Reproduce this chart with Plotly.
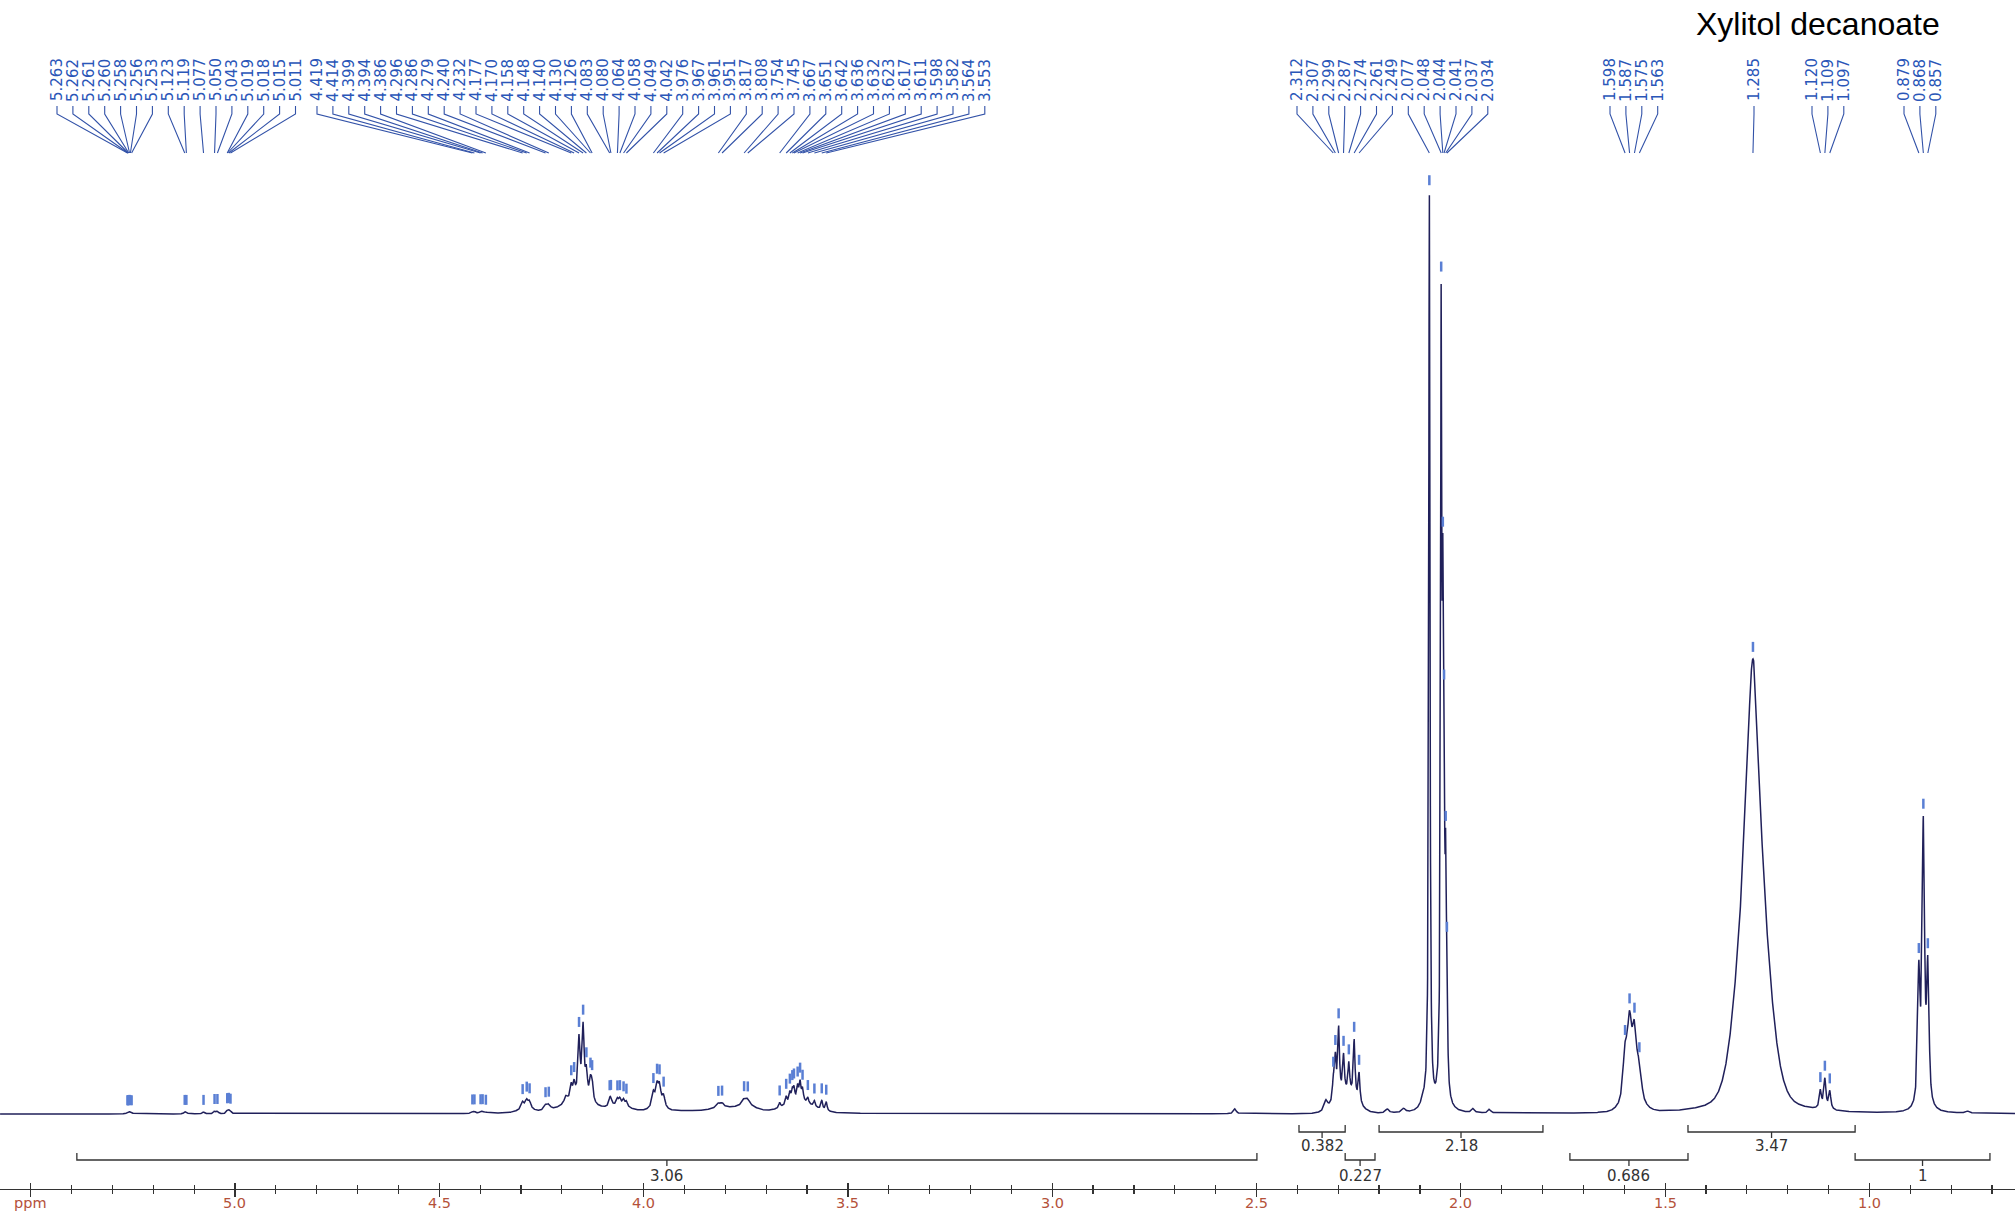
import numpy as np
import plotly.graph_objects as go

W, H = 2015, 1211
X_LEFT, X_RIGHT = 5.5751, 0.6437      # ppm at the left / right edge of the plot area
Y_BOTTOM, Y_TOP = -75, 1114            # intensity range (baseline = 0)

# ---------------- spectrum peak list ----------------
pk_ppm = [5.263, 5.258, 5.253, 5.123, 5.119, 5.077, 5.050, 5.043, 5.019, 5.015, 5.011,
          4.419, 4.414, 4.399, 4.394, 4.386,
          4.290, 4.296, 4.286, 4.279, 4.240, 4.232,
          4.160, 4.190, 4.177, 4.170, 4.158, 4.148, 4.140, 4.130, 4.126,
          4.060, 4.083, 4.080, 4.064, 4.058, 4.049, 4.042,
          3.965, 3.976, 3.967, 3.961, 3.951,
          3.900, 3.810, 3.817, 3.808, 3.750, 3.754, 3.745,
          3.620, 3.667, 3.651, 3.642, 3.636, 3.632, 3.623, 3.617, 3.611, 3.598, 3.582, 3.564, 3.553,
          2.553,
          2.280, 2.330, 2.312, 2.307, 2.299, 2.287, 2.274, 2.261, 2.249,
          2.180, 2.140, 2.092,
          2.077, 2.048, 2.044, 2.041, 2.037, 2.034,
          1.970, 1.930,
          1.580, 1.598, 1.587, 1.575, 1.563,
          1.285, 1.285,
          1.120, 1.109, 1.097,
          0.879, 0.868, 0.857,
          0.760]
pk_h = [1.2, 1.5, 1.2, 1.5, 1.5, 2.0, 2.5, 2.5, 2.5, 2.5, 2.0,
        1.5, 1.5, 1.5, 1.5, 1.2,
        3.0, 7.0, 8.0, 7.0, 5.0, 5.0,
        12.0, 7.0, 14.0, 14.0, 58.0, 70.0, 25.0, 18.0, 18.0,
        5.0, 6.0, 6.0, 6.0, 6.0, 6.0, 5.0,
        8.0, 12.0, 16.0, 16.0, 10.0,
        3.0, 3.0, 4.0, 4.0, 5.0, 6.0, 6.0,
        10.0, 5.0, 8.0, 10.0, 10.0, 12.0, 14.0, 18.0, 12.0, 6.0, 6.0, 9.0, 9.0,
        5.0,
        18.0, 10.0, 20.0, 40.0, 68.0, 38.0, 30.0, 58.0, 30.0,
        4.0, 4.0, 8.0,
        915.0, 750.0, 380.0, 250.0, 180.0, 90.0,
        4.0, 4.0,
        15.0, 45.0, 70.0, 62.0, 30.0,
        305.0, 150.0,
        18.0, 30.0, 18.0,
        130.0, 278.0, 135.0,
        2.0]
pk_w = [0.006, 0.006, 0.006, 0.006, 0.006, 0.006, 0.006, 0.006, 0.006, 0.006, 0.006,
        0.006, 0.006, 0.006, 0.006, 0.006,
        0.040, 0.008, 0.008, 0.008, 0.010, 0.010,
        0.080, 0.010, 0.006, 0.006, 0.006, 0.006, 0.006, 0.006, 0.006,
        0.050, 0.006, 0.006, 0.006, 0.006, 0.006, 0.006,
        0.030, 0.007, 0.007, 0.007, 0.007,
        0.600, 0.060, 0.010, 0.010, 0.060, 0.012, 0.012,
        0.080, 0.005, 0.005, 0.005, 0.005, 0.005, 0.005, 0.005, 0.005, 0.005, 0.005, 0.005, 0.005,
        0.008,
        0.060, 0.010, 0.005, 0.005, 0.005, 0.005, 0.005, 0.005, 0.005,
        0.010, 0.010, 0.015,
        0.0035, 0.0035, 0.0035, 0.0035, 0.0035, 0.0035,
        0.008, 0.008,
        0.050, 0.012, 0.012, 0.012, 0.012,
        0.076, 0.028,
        0.006, 0.006, 0.006,
        0.007, 0.007, 0.007,
        0.010]
pk_eta = [1, 1, 1, 1, 1, 1, 1, 1, 1, 1, 1,
          1, 1, 1, 1, 1,
          0, 1, 1, 1, 1, 1,
          0.5, 1, 1, 1, 1, 1, 1, 1, 1,
          0, 1, 1, 1, 1, 1, 1,
          0, 1, 1, 1, 1,
          0, 0, 1, 1, 0, 1, 1,
          0, 1, 1, 1, 1, 1, 1, 1, 1, 1, 1, 1, 1,
          1,
          0, 1, 1, 1, 1, 1, 1, 1, 1,
          1, 1, 1,
          1, 1, 1, 1, 1, 1,
          1, 1,
          0, 0.6, 0.6, 0.6, 0.6,
          0.25, 0.5,
          1, 1, 1,
          0.8, 0.8, 0.8,
          1]

# ---------------- peak-pick labels (groups, evenly spaced above the spectrum) ----------------
label_groups = [
    ["5.263", "5.262", "5.261", "5.260", "5.258", "5.256", "5.253", "5.123", "5.119", "5.077",
     "5.050", "5.043", "5.019", "5.018", "5.015", "5.011"],
    ["4.419", "4.414", "4.399", "4.394", "4.386", "4.296", "4.286", "4.279", "4.240", "4.232",
     "4.177", "4.170", "4.158", "4.148", "4.140", "4.130", "4.126", "4.083", "4.080", "4.064",
     "4.058", "4.049", "4.042", "3.976", "3.967", "3.961", "3.951", "3.817", "3.808", "3.754",
     "3.745", "3.667", "3.651", "3.642", "3.636", "3.632", "3.623", "3.617", "3.611", "3.598",
     "3.582", "3.564", "3.553"],
    ["2.312", "2.307", "2.299", "2.287", "2.274", "2.261", "2.249", "2.077", "2.048", "2.044",
     "2.041", "2.037", "2.034"],
    ["1.598", "1.587", "1.575", "1.563"],
    ["1.285"],
    ["1.120", "1.109", "1.097"],
    ["0.879", "0.868", "0.857"],
]
label_group_px = [57, 317, 1297, 1610, 1754, 1812, 1904]   # left-most label position (px)
LABEL_STEP = 15.9

# ---------------- integrals ----------------
int_start = [5.387, 2.396, 2.283, 2.200, 1.733, 1.444, 1.035]
int_end = [2.499, 2.283, 2.210, 1.799, 1.444, 1.035, 0.705]
int_value = ["3.06", "0.382", "0.227", "2.18", "0.686", "3.47", "1"]
int_row = [1, 0, 1, 0, 1, 0, 1]

# ---------------- axis ticks ----------------
tick_vals = [5.5, 5.0, 4.5, 4.0, 3.5, 3.0, 2.5, 2.0, 1.5, 1.0]
tick_text = ["ppm", "5.0", "4.5", "4.0", "3.5", "3.0", "2.5", "2.0", "1.5", "1.0"]

TITLE = "Xylitol decanoate"

# ======================================================================
SPEC_COLOR = "#20205a"
LABEL_COLOR = "#2a56b8"
LINE_COLOR = "#3252a8"
MARK_COLOR = "#5a7fd4"
TICK_COLOR = "#b4513a"
INT_COLOR = "#333333"
AXIS_PY = 1189


def spectrum(x):
    x = np.asarray(x, dtype=float)
    y = np.zeros_like(x)
    for p, h, w, e in zip(pk_ppm, pk_h, pk_w, pk_eta):
        d = (x - p) / w
        lor = 1.0 / (1.0 + 4.0 * d * d)
        gau = np.exp(-4.0 * np.log(2.0) * d * d)
        y += h * (e * lor + (1 - e) * gau)
    return y


def px_to_ppm(px):
    return X_LEFT - px * (X_LEFT - X_RIGHT) / W


def py_to_y(py):
    return Y_TOP - py


xs = np.arange(X_RIGHT, X_LEFT, 0.0004)
ys = spectrum(xs)

fig = go.Figure()
fig.add_trace(go.Scatter(x=xs, y=ys, mode="lines",
                         line=dict(color=SPEC_COLOR, width=1.5),
                         hoverinfo="skip", showlegend=False))

# peak labels, connectors, marks
con_x, con_y, mk_x, mk_y = [], [], [], []
annotations = []
for grp, start in zip(label_groups, label_group_px):
    for i, lab in enumerate(grp):
        lx = start + i * LABEL_STEP
        p = float(lab)
        xl = px_to_ppm(lx)
        con_x += [xl, xl, p, None]
        con_y += [py_to_y(106), py_to_y(114), py_to_y(153), None]
        yi = float(spectrum([p])[0])
        mk_x += [p, p, None]
        mk_y += [yi + 7, yi + 17, None]
        annotations.append(dict(x=xl, y=py_to_y(80), xref="x", yref="y", text=lab,
                                textangle=-90, showarrow=False, xanchor="center",
                                yanchor="middle", borderpad=0,
                                font=dict(family="DejaVu Sans, Verdana", size=15,
                                          color=LABEL_COLOR)))

fig.add_trace(go.Scatter(x=con_x, y=con_y, mode="lines",
                         line=dict(color=LINE_COLOR, width=1.1),
                         hoverinfo="skip", showlegend=False))
fig.add_trace(go.Scatter(x=mk_x, y=mk_y, mode="lines",
                         line=dict(color=MARK_COLOR, width=2.5),
                         hoverinfo="skip", showlegend=False))

# integrals
row_line = [py_to_y(1132), py_to_y(1160)]
row_text = [py_to_y(1146), py_to_y(1176)]
ix, iy = [], []
for s, e, v, r in zip(int_start, int_end, int_value, int_row):
    yl = row_line[r]
    m = (s + e) / 2
    ix += [s, s, e, e, None, m, m, None]
    iy += [yl + 7, yl, yl, yl + 7, None, yl, yl - 6, None]
    annotations.append(dict(x=m, y=row_text[r], xref="x", yref="y", text=v,
                            showarrow=False, xanchor="center", yanchor="middle",
                            font=dict(family="DejaVu Sans, Verdana", size=15,
                                      color=INT_COLOR)))
fig.add_trace(go.Scatter(x=ix, y=iy, mode="lines",
                         line=dict(color=INT_COLOR, width=1.3),
                         hoverinfo="skip", showlegend=False))

# invisible trace for the overlaying axis (ticks pointing up)
fig.add_trace(go.Scatter(x=[X_LEFT, X_RIGHT], y=[0, 0], xaxis="x2", mode="lines",
                         line=dict(width=0), opacity=0, hoverinfo="skip",
                         showlegend=False))

# tick labels placed as text just under the axis line
for tv, tt in zip(tick_vals, tick_text):
    annotations.append(dict(x=tv, y=(AXIS_PY - 1203) / AXIS_PY, xref="x", yref="paper",
                            text=tt, showarrow=False, xanchor="center", yanchor="middle",
                            font=dict(family="DejaVu Sans, Verdana", size=14.5,
                                      color=TICK_COLOR)))

annotations.append(dict(x=1818 / W, y=(AXIS_PY - 24) / AXIS_PY, xref="paper", yref="paper",
                        text=TITLE, showarrow=False, xanchor="center", yanchor="middle",
                        font=dict(family="Liberation Sans, Arial", size=32, color="#000000")))

fig.update_layout(
    width=W, height=H,
    margin=dict(l=0, r=0, t=0, b=H - AXIS_PY, autoexpand=False),
    paper_bgcolor="white", plot_bgcolor="white",
    xaxis=dict(range=[X_LEFT, X_RIGHT], showgrid=False, zeroline=False,
               showline=True, linecolor="#333333", linewidth=1.2,
               tickmode="array", tickvals=tick_vals, showticklabels=False,
               ticks="outside", ticklen=7, tickwidth=1.2, tickcolor="#333333",
               minor=dict(tickmode="linear", tick0=0, dtick=0.1, ticks="outside",
                          ticklen=4, tickcolor="#333333", showgrid=False)),
    xaxis2=dict(range=[X_LEFT, X_RIGHT], overlaying="x", anchor="y", side="bottom",
                showgrid=False, zeroline=False, showline=False, showticklabels=False,
                tickmode="array", tickvals=tick_vals,
                ticks="inside", ticklen=6, tickwidth=1.2, tickcolor="#333333",
                minor=dict(tickmode="linear", tick0=0, dtick=0.1, ticks="inside",
                           ticklen=4, tickcolor="#333333", showgrid=False)),
    yaxis=dict(range=[Y_BOTTOM, Y_TOP], visible=False, showgrid=False, zeroline=False),
    annotations=annotations,
)

fig.write_html("out.html", config={"displayModeBar": False, "staticPlot": True},
               post_script="document.body.style.margin='0';document.body.style.overflow='hidden';")
